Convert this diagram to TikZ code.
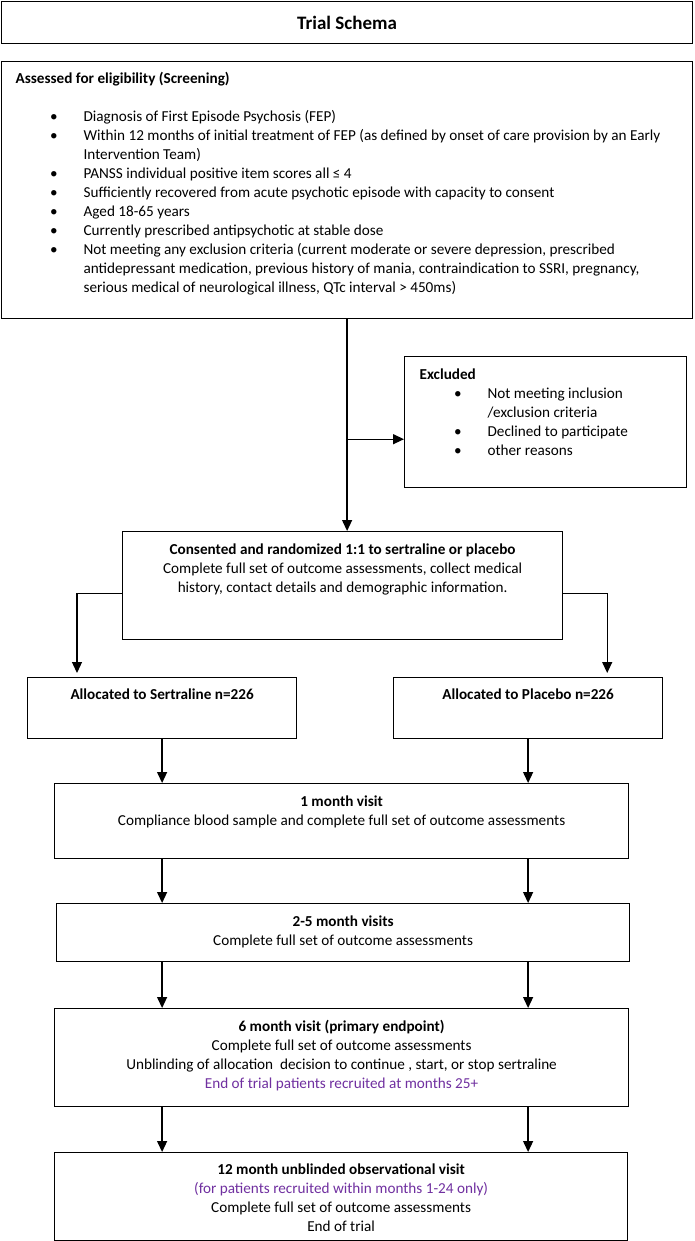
\documentclass[tikz,border=0pt]{standalone}
\usepackage{fontspec}
\setmainfont{Carlito}
\usetikzlibrary{arrows.meta}
\definecolor{purp}{RGB}{112,48,160}
\newcommand\bul{\hspace*{34.5pt}\makebox[33.5pt][l]{•}}
\newcommand\cont{\hspace*{68pt}}
\begin{document}
\begin{tikzpicture}[x=1pt,y=-1pt,
  box/.style={draw=black,line width=1.2pt,inner sep=0pt,anchor=north west,font=\fontsize{15.2}{19}\selectfont},
  arr/.style={line width=1.3pt,-{Triangle[length=11pt,width=10pt]}}]
\useasboundingbox (0,0) rectangle (694,1241);
\fill[white] (0,0) rectangle (694,1241);

\node[box,minimum width=691pt,minimum height=42pt,font=\fontsize{19}{23}\selectfont\bfseries] (title) at (1,1) {Trial Schema};

\node[box] (elig) at (1,61) {\parbox[c][257pt][t]{691pt}{\raggedright\leftskip=14pt\rule{0pt}{22pt}\textbf{Assessed for eligibility (Screening)}\\[19pt]
\bul Diagnosis of First Episode Psychosis (FEP)\\
\bul Within 12 months of initial treatment of FEP (as defined by onset of care provision by an Early\\
\cont Intervention Team)\\
\bul PANSS individual positive item scores all ≤ 4\\
\bul Sufficiently recovered from acute psychotic episode with capacity to consent\\
\bul Aged 18-65 years\\
\bul Currently prescribed antipsychotic at stable dose\\
\bul Not meeting any exclusion criteria (current moderate or severe depression, prescribed\\
\cont antidepressant medication, previous history of mania, contraindication to SSRI, pregnancy,\\
\cont serious medical of neurological illness, QTc interval > 450ms)}};

\node[box] (excl) at (404,356) {\parbox[c][131pt][t]{282pt}{\raggedright\leftskip=15pt\rule{0pt}{23pt}\textbf{Excluded}\\
\bul Not meeting inclusion\\
\cont /exclusion criteria\\
\bul Declined to participate\\
\bul other reasons}};

\node[box] (consent) at (122,531) {\parbox[c][108pt][t]{440pt}{\centering\rule{0pt}{23pt}\textbf{Consented and randomized 1:1 to sertraline or placebo}\\
Complete full set of outcome assessments, collect medical\\
history, contact details and demographic information.}};

\node[box] (sert) at (27,677) {\parbox[c][61pt][t]{269pt}{\centering\rule{0pt}{22pt}\textbf{Allocated to Sertraline n=226}}};
\node[box] (plac) at (393,677) {\parbox[c][61pt][t]{269pt}{\centering\rule{0pt}{22pt}\textbf{Allocated to Placebo n=226}}};

\node[box] (m1) at (54,783) {\parbox[c][75pt][t]{574pt}{\centering\rule{0pt}{23pt}\textbf{1 month visit}\\
Compliance blood sample and complete full set of outcome assessments}};

\node[box] (m25) at (56,903) {\parbox[c][58pt][t]{573pt}{\centering\rule{0pt}{23pt}\textbf{2-5 month visits}\\
Complete full set of outcome assessments}};

\node[box] (m6) at (54,1008) {\parbox[c][98pt][t]{574pt}{\centering\rule{0pt}{23pt}\textbf{6 month visit (primary endpoint)}\\
Complete full set of outcome assessments\\
Unblinding of allocation\ \ decision to continue , start, or stop sertraline\\
\textcolor{purp}{End of trial patients recruited at months 25+}}};

\node[box] (m12) at (54,1152) {\parbox[c][88pt][t]{573pt}{\centering\rule{0pt}{22pt}\textbf{12 month unblinded observational visit}\\
\textcolor{purp}{(for patients recruited within months 1-24 only)}\\
Complete full set of outcome assessments\\
End of trial}};

% connectors
\draw[arr] (elig.south) -- (elig.south |- consent.north);
\path (elig.south) ++(0,120) coordinate (br);
\draw[arr] (br) -- (br -| excl.west);

\path (consent.west) ++(0,8) coordinate (cL);
\path (consent.east) ++(0,8) coordinate (cR);
\draw[arr] (cL) -| ([xshift=50pt,yshift=4pt]sert.north west);
\draw[arr] (cR) -| ([xshift=-56pt,yshift=4pt]plac.north east);

\draw[arr] (sert.south) -- (sert.south |- m1.north);
\draw[arr] (plac.south) -- (plac.south |- m1.north);
\draw[arr] (sert.south |- m1.south) -- (sert.south |- m25.north);
\draw[arr] (plac.south |- m1.south) -- (plac.south |- m25.north);
\draw[arr] (sert.south |- m25.south) -- (sert.south |- m6.north);
\draw[arr] (plac.south |- m25.south) -- (plac.south |- m6.north);
\draw[arr] (sert.south |- m6.south) -- (sert.south |- m12.north);
\draw[arr] (plac.south |- m6.south) -- (plac.south |- m12.north);
\end{tikzpicture}
\end{document}
